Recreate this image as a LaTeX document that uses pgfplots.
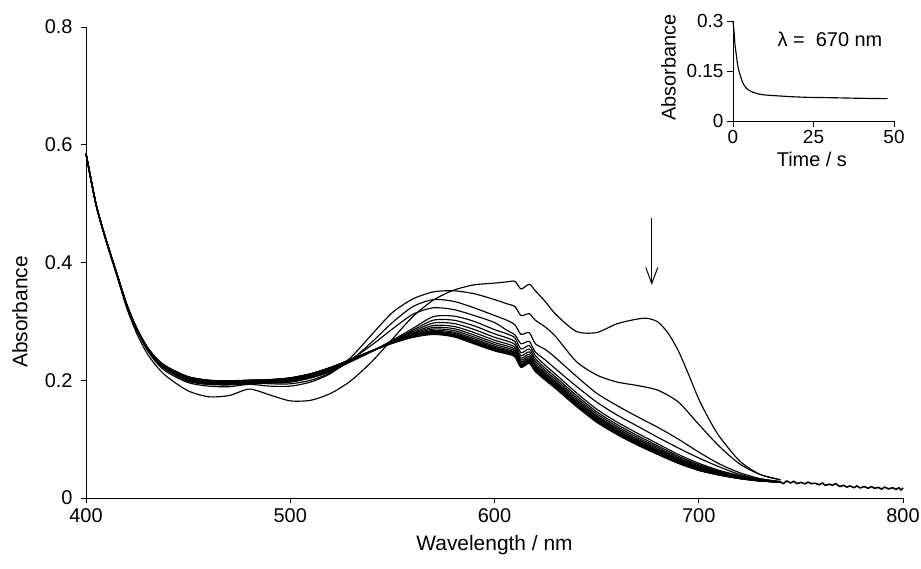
\documentclass[border=0pt]{standalone}
\usepackage{fontspec}
\setmainfont{Liberation Sans}
\usepackage{pgfplots}
\usepackage{pgfplotstable}
\pgfplotsset{compat=1.18}
\usetikzlibrary{arrows.meta}

\pgfplotstableread{
x b1 b2 b3 b4 b5 b6 b7 b8 b9 b10 b11 b12 f
400 0.585 0.585 0.585 0.585 0.585 0.585 0.585 0.585 0.585 0.585 0.585 0.585 0.585
405 0.497 0.497 0.497 0.497 0.497 0.497 0.497 0.497 0.497 0.497 0.497 0.497 0.497
410 0.436 0.436 0.436 0.436 0.436 0.436 0.436 0.436 0.436 0.436 0.436 0.436 0.436
415 0.381 0.3812 0.3814 0.3815 0.3816 0.3817 0.3818 0.3818 0.3819 0.3819 0.382 0.382 0.382
420 0.326 0.3264 0.3267 0.327 0.3272 0.3274 0.3276 0.3277 0.3278 0.3279 0.3279 0.328 0.328
425 0.284 0.2846 0.2851 0.2855 0.2858 0.2861 0.2863 0.2865 0.2867 0.2868 0.2869 0.2869 0.287
430 0.252 0.2528 0.2534 0.254 0.2544 0.2548 0.2551 0.2554 0.2556 0.2557 0.2558 0.2559 0.256
435 0.23 0.231 0.2318 0.2325 0.233 0.2335 0.2339 0.2342 0.2344 0.2346 0.2348 0.2349 0.235
440 0.216 0.2172 0.2182 0.219 0.2197 0.2202 0.2207 0.221 0.2213 0.2216 0.2218 0.2219 0.222
450 0.199 0.2004 0.2015 0.2025 0.2033 0.2039 0.2045 0.2049 0.2052 0.2055 0.2057 0.2059 0.206
460 0.193 0.1944 0.1955 0.1965 0.1973 0.1979 0.1985 0.1989 0.1992 0.1995 0.1997 0.1999 0.2
470 0.192 0.1934 0.1945 0.1955 0.1963 0.1969 0.1975 0.1979 0.1982 0.1985 0.1987 0.1989 0.199
480 0.194 0.1952 0.1962 0.197 0.1977 0.1982 0.1987 0.199 0.1993 0.1996 0.1998 0.1999 0.2
490 0.195 0.1962 0.1972 0.198 0.1987 0.1992 0.1997 0.2 0.2003 0.2006 0.2008 0.2009 0.201
500 0.197 0.1984 0.1995 0.2005 0.2013 0.2019 0.2025 0.2029 0.2032 0.2035 0.2037 0.2039 0.204
510 0.204 0.2054 0.2065 0.2075 0.2083 0.2089 0.2095 0.2099 0.2102 0.2105 0.2107 0.2109 0.211
520 0.216 0.2172 0.2182 0.219 0.2197 0.2202 0.2207 0.221 0.2213 0.2216 0.2218 0.2219 0.222
530 0.232 0.2328 0.2334 0.234 0.2344 0.2348 0.2351 0.2354 0.2356 0.2357 0.2358 0.2359 0.236
540 0.249 0.2492 0.2494 0.2495 0.2496 0.2497 0.2498 0.2498 0.2499 0.2499 0.25 0.25 0.25
550 0.268 0.267 0.2662 0.2655 0.265 0.2645 0.2641 0.2638 0.2636 0.2634 0.2632 0.2631 0.263
560 0.288 0.285 0.2826 0.2805 0.2789 0.2775 0.2763 0.2754 0.2747 0.2741 0.2736 0.2733 0.273
570 0.308 0.302 0.2972 0.293 0.2897 0.287 0.2846 0.2828 0.2813 0.2801 0.2792 0.2786 0.278
580 0.309 0.302 0.2964 0.2915 0.2877 0.2845 0.2817 0.2796 0.2779 0.2765 0.2754 0.2747 0.274
590 0.3 0.2924 0.2863 0.281 0.2768 0.2734 0.2704 0.2681 0.2662 0.2647 0.2635 0.2628 0.262
600 0.286 0.2788 0.273 0.268 0.264 0.2608 0.2579 0.2558 0.254 0.2525 0.2514 0.2507 0.25
606 0.279 0.2722 0.2668 0.262 0.2583 0.2552 0.2525 0.2504 0.2487 0.2474 0.2464 0.2457 0.245
610 0.272 0.2656 0.2605 0.256 0.2525 0.2496 0.247 0.2451 0.2435 0.2422 0.2413 0.2406 0.24
613 0.253 0.2468 0.2418 0.2375 0.2341 0.2313 0.2288 0.227 0.2254 0.2242 0.2232 0.2226 0.222
617 0.259 0.253 0.2482 0.244 0.2407 0.238 0.2356 0.2338 0.2323 0.2311 0.2302 0.2296 0.229
620 0.242 0.2366 0.2323 0.2285 0.2255 0.2231 0.2209 0.2193 0.218 0.2169 0.2161 0.2155 0.215
625 0.225 0.22 0.216 0.2125 0.2098 0.2075 0.2055 0.204 0.2028 0.2018 0.201 0.2005 0.2
630 0.21 0.2052 0.2014 0.198 0.1954 0.1932 0.1913 0.1898 0.1886 0.1877 0.187 0.1865 0.186
640 0.179 0.1744 0.1707 0.1675 0.165 0.1629 0.1611 0.1597 0.1585 0.1576 0.1569 0.1565 0.156
650 0.151 0.1466 0.1431 0.14 0.1376 0.1356 0.1338 0.1325 0.1314 0.1305 0.1299 0.1294 0.129
660 0.129 0.1248 0.1214 0.1185 0.1162 0.1143 0.1126 0.1114 0.1103 0.1095 0.1088 0.1084 0.108
670 0.11 0.106 0.1028 0.1 0.0978 0.096 0.0944 0.0932 0.0922 0.0914 0.0908 0.0904 0.09
680 0.092 0.0884 0.0855 0.083 0.081 0.0794 0.078 0.0769 0.076 0.0753 0.0747 0.0744 0.074
690 0.074 0.071 0.0686 0.0665 0.0649 0.0635 0.0623 0.0614 0.0607 0.0601 0.0596 0.0593 0.059
700 0.059 0.0566 0.0547 0.053 0.0517 0.0506 0.0496 0.0489 0.0483 0.0478 0.0475 0.0472 0.047
710 0.047 0.0454 0.0441 0.043 0.0421 0.0414 0.0408 0.0403 0.0399 0.0396 0.0393 0.0392 0.039
720 0.038 0.037 0.0362 0.0355 0.035 0.0345 0.0341 0.0338 0.0336 0.0334 0.0332 0.0331 0.033
730 0.031 0.0306 0.0303 0.03 0.0298 0.0296 0.0294 0.0293 0.0292 0.0291 0.0291 0.029 0.029
740 0.027 0.027 0.027 0.027 0.027 0.027 0.027 0.027 0.027 0.027 0.027 0.027 0.027
}\bundle

\begin{document}
\begin{tikzpicture}
\path[use as bounding box] (0,0) rectangle (921bp,569bp);
\begin{axis}[
  at={(86bp,71bp)}, anchor=south west,
  scale only axis, width=817bp, height=471bp,
  xmin=400, xmax=800, ymin=0, ymax=0.8,
  axis x line*=bottom, axis y line*=left,
  axis line style={-, line width=0.8bp},
  tick align=outside, major tick length=5bp,
  tick style={line width=0.8bp, black},
  xtick={400,500,600,700,800}, xticklabels={400,500,600,700,800},
  ytick={0,0.2,0.4,0.6,0.8}, yticklabels={0,0.2,0.4,0.6,0.8},
  /pgf/number format/assume math mode=true,
  tick label style={font=\fontsize{20}{23}\selectfont},
  yticklabel style={xshift=-5bp},
  xticklabel style={yshift=-2bp},
  label style={font=\fontsize{21}{24}\selectfont},
  xlabel={Wavelength / nm}, ylabel={Absorbance},
  xlabel style={at={(axis description cs:0.5,-0.1)}, anchor=center},
  ylabel style={at={(axis description cs:-0.081,0.395)}, anchor=center},
  cycle list={{black, solid, mark=none}},
  no markers,
  every axis plot/.append style={line width=1.15bp, line join=round, smooth, tension=0.45},
  clip=false,
]
\foreach \c in {b12,b11,b10,b9,b8,b7,b6,b5,b4,b3,b2,b1}{
  \addplot[black] table[x=x, y=\c] {\bundle};
}
\addplot[black, line width=1.4bp] table[x=x, y=f] {\bundle};
% noisy tail
\addplot[black, line width=1.6bp, sharp plot] coordinates {
(740,0.027)(741.5,0.0245)(743,0.029)(745,0.0255)(746.5,0.0285)(748,0.0245)(750,0.0265)(752,0.024)(753.5,0.027)(755,0.0245)(757,0.025)(759,0.0225)(760.5,0.0255)(762,0.0215)(764,0.0235)(765.5,0.0215)(767,0.0245)(769,0.0195)(771,0.0215)(772.5,0.0185)(774,0.0205)(776,0.0175)(777.5,0.0205)(779,0.017)(781,0.0195)(783,0.0165)(784.5,0.0195)(786,0.0165)(788,0.018)(789.5,0.015)(791,0.0185)(793,0.0155)(795,0.0175)(796.5,0.0145)(798,0.0175)(799,0.0135)(800,0.017)};
% curve 4
\addplot[black] coordinates {
(400,0.585)(405,0.498)(410,0.437)(415,0.382)(420,0.327)(425,0.286)(430,0.254)(435,0.232)(440,0.218)(450,0.2)(460,0.194)(470,0.194)(480,0.196)(490,0.196)(500,0.197)(510,0.204)(520,0.215)(530,0.236)(540,0.26)(550,0.287)(560,0.312)(570,0.323)(580,0.32)(590,0.31)(600,0.298)(606,0.285)(610,0.277)(613,0.262)(617,0.266)(620,0.248)(625,0.234)(630,0.219)(640,0.19)(650,0.163)(660,0.141)(670,0.122)(680,0.103)(690,0.085)(700,0.068)(710,0.053)(720,0.04)(730,0.032)(740,0.028)};
% curve 3
\addplot[black] coordinates {
(400,0.585)(405,0.498)(410,0.437)(415,0.381)(420,0.327)(425,0.285)(430,0.253)(435,0.23)(440,0.216)(450,0.198)(460,0.193)(470,0.193)(480,0.196)(490,0.194)(500,0.194)(510,0.2)(520,0.213)(530,0.235)(540,0.265)(550,0.298)(560,0.325)(570,0.337)(580,0.334)(590,0.323)(600,0.31)(606,0.302)(610,0.294)(613,0.278)(617,0.281)(620,0.262)(625,0.252)(630,0.238)(640,0.207)(650,0.178)(660,0.157)(670,0.138)(680,0.12)(690,0.1)(700,0.078)(710,0.058)(720,0.043)(730,0.033)(740,0.028)};
% curve 2
\addplot[black] coordinates {
(400,0.585)(405,0.498)(410,0.437)(415,0.381)(420,0.326)(425,0.284)(430,0.251)(435,0.228)(440,0.213)(450,0.196)(460,0.19)(470,0.189)(480,0.193)(490,0.19)(500,0.19)(510,0.197)(520,0.212)(530,0.24)(540,0.278)(550,0.315)(560,0.338)(570,0.35)(580,0.352)(590,0.347)(600,0.337)(606,0.33)(610,0.325)(613,0.31)(617,0.313)(620,0.302)(625,0.29)(630,0.274)(640,0.232)(650,0.209)(660,0.197)(670,0.191)(680,0.183)(690,0.163)(700,0.125)(710,0.088)(720,0.058)(730,0.04)(740,0.031)};
% curve 1
\addplot[black] coordinates {
(400,0.585)(405,0.497)(410,0.434)(415,0.378)(420,0.322)(425,0.278)(430,0.245)(435,0.222)(440,0.205)(450,0.182)(460,0.172)(470,0.174)(480,0.185)(490,0.175)(500,0.165)(510,0.166)(520,0.178)(530,0.2)(540,0.232)(550,0.27)(560,0.308)(570,0.336)(580,0.353)(590,0.362)(600,0.365)(606,0.367)(610,0.368)(613,0.355)(617,0.363)(620,0.352)(625,0.333)(630,0.312)(640,0.283)(650,0.281)(660,0.296)(670,0.304)(675,0.305)(680,0.299)(685,0.28)(690,0.25)(695,0.21)(700,0.168)(705,0.134)(710,0.105)(720,0.063)(730,0.04)(740,0.031)};
\draw[line width=1bp, -{Straight Barb[length=16bp,width=12bp,line width=1bp]}] (axis cs:677,0.476) -- (axis cs:677,0.362);
\end{axis}

\begin{axis}[
  at={(733bp,448bp)}, anchor=south west,
  scale only axis, width=161bp, height=100bp,
  xmin=0, xmax=50, ymin=0, ymax=0.3,
  axis x line*=bottom, axis y line*=left,
  axis line style={-, line width=0.8bp},
  tick align=outside, major tick length=6bp,
  tick style={line width=0.8bp, black},
  xtick={0,25,50}, xticklabels={0,25,50},
  ytick={0,0.15,0.3}, yticklabels={0,0.15,0.3},
  /pgf/number format/assume math mode=true,
  tick label style={font=\fontsize{19}{22}\selectfont},
  label style={font=\fontsize{20}{24}\selectfont},
  xlabel={Time / s}, ylabel={Absorbance},
  xlabel style={at={(axis description cs:0.49,-0.38)}, anchor=center},
  ylabel style={at={(axis description cs:-0.4,0.535)}, anchor=center},
  clip=false,
]
\addplot[black, line width=1.15bp, mark=none, smooth, tension=0.4] coordinates {
(0,0.3)(0.3,0.27)(0.6,0.23)(1,0.2)(1.5,0.165)(2,0.145)(3,0.115)(4,0.1)(5,0.092)(6,0.087)(8,0.081)(10,0.078)(13,0.076)(18,0.073)(23,0.071)(30,0.07)(35,0.069)(40,0.068)(48,0.067)};
\end{axis}
\node[font=\fontsize{20}{24}\selectfont, anchor=center] at (830bp,530bp) {λ =\ \ 670 nm};
\end{tikzpicture}
\end{document}
